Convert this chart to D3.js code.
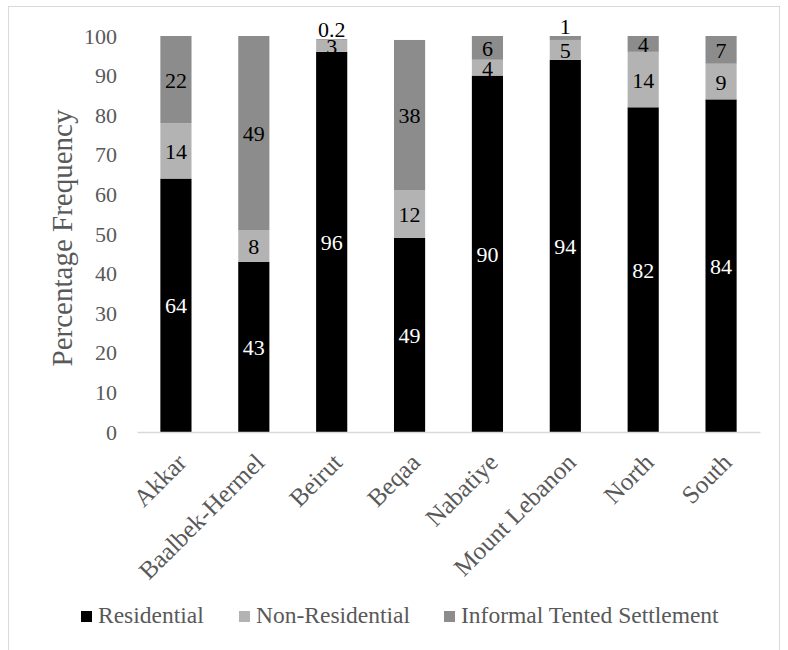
<!DOCTYPE html>
<html>
<head>
<meta charset="utf-8">
<script src="https://cdnjs.cloudflare.com/ajax/libs/d3/7.8.5/d3.min.js"></script>
<style>
  body { margin: 0; background: #fff; }
  text { font-family: "Liberation Serif", "Times New Roman", serif; }
</style>
</head>
<body>
<script>

// regions on the x axis
var regions = ['Akkar', 'Baalbek-Hermel', 'Beirut', 'Beqaa', 'Nabatiye', 'Mount Lebanon', 'North', 'South'];

// series, stacked bottom to top
var seriesNames = ['Residential', 'Non-Residential', 'Informal Tented Settlement'];
var residential    = [64, 43, 96, 49, 90, 94, 82, 84];
var nonResidential = [14, 8, 3, 12, 4, 5, 14, 9];
var informal       = [22, 49, 0.2, 38, 6, 1, 4, 7];

var yTicks = [0, 10, 20, 30, 40, 50, 60, 70, 80, 90, 100];

var width = 788, height = 650;

var x = d3.scaleBand()
    .domain(regions)
    .range([137, 760])
    .paddingInner(0.6)
    .paddingOuter(0.3);

var y = d3.scaleLinear()
    .domain([0, 100])
    .range([432, 36]);

var color = d3.scaleOrdinal()
    .domain(seriesNames)
    .range(['#000000', '#b3b3b3', '#8c8c8c']);

// rows for d3.stack
var table = regions.map(function(r, i) {
  return {
    region: r,
    'Residential': residential[i],
    'Non-Residential': nonResidential[i],
    'Informal Tented Settlement': informal[i]
  };
});

var stacked = d3.stack().keys(seriesNames)(table);

var svg = d3.select("body").append("svg")
    .attr("width", width)
    .attr("height", height);

// chart frame
svg.append("rect")
    .attr("x", 8.5)
    .attr("y", 6.5)
    .attr("width", 771)
    .attr("height", 660)
    .style("fill", "none")
    .style("stroke", "#d9d9d9");

// y axis, labels only
var yAxis = d3.axisLeft(y).tickValues(yTicks).tickSize(0).tickPadding(20);
var gy = svg.append("g")
    .attr("transform", "translate(137,0)")
    .call(yAxis);
gy.select(".domain").remove();
gy.selectAll("text")
    .style("font-size", "22px")
    .style("font-family", "Liberation Serif")
    .style("fill", "#595959");

// y title
svg.append("text")
    .attr("transform", "translate(72,238) rotate(-90)")
    .style("text-anchor", "middle")
    .style("font-size", "29px")
    .style("fill", "#595959")
    .text("Percentage Frequency");

// bars
var layer = svg.selectAll(".layer")
    .data(stacked)
  .enter().append("g")
    .attr("class", "layer")
    .style("fill", function(d) { return color(d.key); });

layer.selectAll("rect")
    .data(function(d) { return d; })
  .enter().append("rect")
    .attr("x", function(d) { return x(d.data.region); })
    .attr("width", x.bandwidth())
    .attr("y", function(d) { return y(d[1]); })
    .attr("height", function(d) { return y(d[0]) - y(d[1]); });

// x axis line + rotated labels
var xAxis = d3.axisBottom(x).tickSize(0).tickPadding(0);
var gx = svg.append("g")
    .attr("transform", "translate(0,432)")
    .call(xAxis);
gx.select(".domain")
    .style("stroke", "#d9d9d9")
    .style("stroke-width", 1.5);
gx.selectAll("text")
    .attr("y", 0)
    .attr("dy", 0)
    .attr("transform", "translate(12,32) rotate(-45)")
    .style("text-anchor", "end")
    .style("font-size", "25px")
    .style("fill", "#595959");

// data labels
layer.each(function(s, si) {
  d3.select(this).selectAll(".lbl")
      .data(s)
    .enter().append("text")
      .attr("class", "lbl")
      .attr("x", function(d) { return x(d.data.region) + x.bandwidth() / 2; })
      .attr("y", function(d) {
        var v = d[1] - d[0];
        if (v < 2) return y(d[1]) - 2.5;
        return y((d[0] + d[1]) / 2) + 8;
      })
      .style("text-anchor", "middle")
      .style("font-size", "22px")
      .style("fill", si === 0 ? "#ffffff" : "#000000")
      .text(function(d) { return +(d[1] - d[0]).toFixed(1); });
});

// legend
var legendX = [81, 239, 444];
var legend = svg.selectAll(".legend")
    .data(seriesNames)
  .enter().append("g")
    .attr("class", "legend")
    .attr("transform", function(d, i) { return "translate(" + legendX[i] + ",611)"; });

legend.append("rect")
    .attr("width", 11)
    .attr("height", 11)
    .style("fill", color);

legend.append("text")
    .attr("x", 17)
    .attr("y", 12)
    .style("font-size", "23.5px")
    .style("fill", "#595959")
    .text(function(d) { return d; });

</script>
</body>
</html>
